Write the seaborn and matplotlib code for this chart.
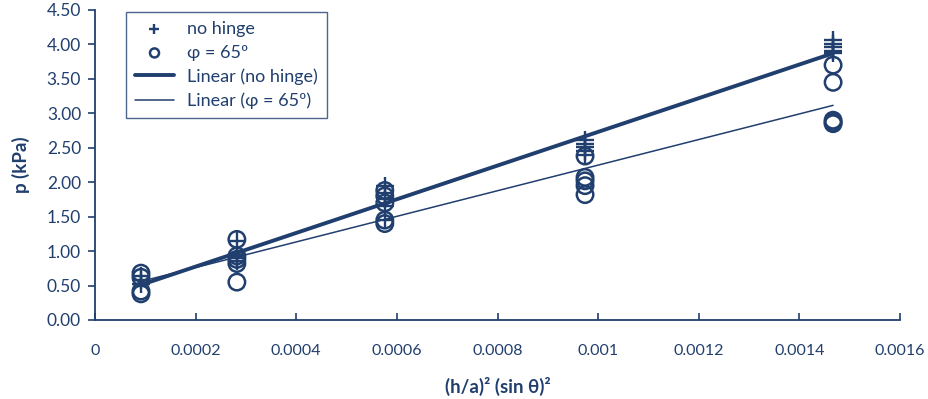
import numpy as np
import pandas as pd
import matplotlib
matplotlib.use("Agg")
import matplotlib.pyplot as plt
import seaborn as sns

# ---- data ----
x_levels = [0.0000914, 0.000282, 0.000576, 0.000974, 0.001467]

nohinge_x = [0.0000914] * 3 + [0.000282] * 4 + [0.000576] * 5 + [0.000974] * 5 + [0.001467] * 5
nohinge_p = [0.52, 0.58, 0.64,
             1.15, 0.95, 0.90, 0.85,
             1.95, 1.85, 1.75, 1.65, 1.45,
             2.62, 2.56, 2.51, 2.46, 2.40,
             4.06, 4.01, 3.96, 3.91, 3.87]

phi_x = [0.0000914] * 4 + [0.000282] * 5 + [0.000576] * 5 + [0.000974] * 5 + [0.001467] * 5
phi_p = [0.68, 0.62, 0.42, 0.38,
         1.17, 0.93, 0.88, 0.82, 0.55,
         1.88, 1.80, 1.70, 1.45, 1.40,
         2.38, 2.07, 2.02, 1.95, 1.82,
         3.70, 3.45, 2.90, 2.87, 2.85]

x_ticks = [0, 0.0002, 0.0004, 0.0006, 0.0008, 0.001, 0.0012, 0.0014, 0.0016]
x_tick_labels = ["0", "0.0002", "0.0004", "0.0006", "0.0008", "0.001", "0.0012", "0.0014", "0.0016"]
y_ticks = [0, 0.5, 1.0, 1.5, 2.0, 2.5, 3.0, 3.5, 4.0, 4.5]
y_tick_labels = ["0.00", "0.50", "1.00", "1.50", "2.00", "2.50", "3.00", "3.50", "4.00", "4.50"]

labels = ["no hinge", "φ = 65º", "Linear (no hinge)", "Linear (φ = 65º)"]

df_nh = pd.DataFrame({"x": nohinge_x, "p": nohinge_p})
df_phi = pd.DataFrame({"x": phi_x, "p": phi_p})

# ---- style ----
sns.set_style("white")
plt.rcParams["font.family"] = ["Lato", "DejaVu Sans"]
navy = "#213f6e"

fig = plt.figure(figsize=(9.29, 3.99), dpi=100)
ax = fig.add_axes([95 / 929, 1 - 320 / 399, (900 - 95) / 929, (320 - 10) / 399])

sns.regplot(data=df_nh, x="x", y="p", ax=ax, ci=None, truncate=True, marker="+",
            scatter_kws=dict(s=150, color=navy, linewidths=1.7, alpha=1, zorder=3),
            line_kws=dict(color=navy, lw=2.8, zorder=4))
sns.regplot(data=df_phi, x="x", y="p", ax=ax, ci=None, truncate=True, marker="o",
            scatter_kws=dict(s=140, facecolors="none", edgecolors=navy, linewidths=1.8,
                             alpha=1, zorder=3),
            line_kws=dict(color=navy, lw=1.1, zorder=4))

ax.set_xlim(0, 0.0016)
ax.set_ylim(0, 4.5)
ax.set_xticks(x_ticks)
ax.set_xticklabels(x_tick_labels)
ax.set_yticks(y_ticks)
ax.set_yticklabels(y_tick_labels)

for s in ["top", "right"]:
    ax.spines[s].set_visible(False)
for s in ["left", "bottom"]:
    ax.spines[s].set_color(navy)
    ax.spines[s].set_linewidth(1.3)

ax.tick_params(axis="x", direction="in", length=5, width=1.2, color=navy,
               labelcolor=navy, labelsize=11.5, pad=17, bottom=True)
ax.tick_params(axis="y", direction="out", length=5, width=1.2, color=navy,
               labelcolor=navy, labelsize=12.5, pad=5, left=True)

ax.set_xlabel("(h/a)² (sin θ)²", fontsize=13.5, fontweight="bold", color=navy, labelpad=14)
ax.set_ylabel("p (kPa)", fontsize=13.5, fontweight="bold", color=navy, labelpad=12)

handles = [ax.collections[0], ax.collections[1], ax.lines[0], ax.lines[1]]
leg = ax.legend(handles, labels,
                loc="upper left", bbox_to_anchor=(27 / 805, 1.005), frameon=True,
                fancybox=False, edgecolor=navy, fontsize=13, markerscale=0.55,
                labelcolor=navy, handlelength=2.2, handletextpad=0.7, borderpad=0.5,
                labelspacing=0.42, borderaxespad=0.2)
leg.get_frame().set_linewidth(1.0)

fig.savefig("out.png", dpi=100)
